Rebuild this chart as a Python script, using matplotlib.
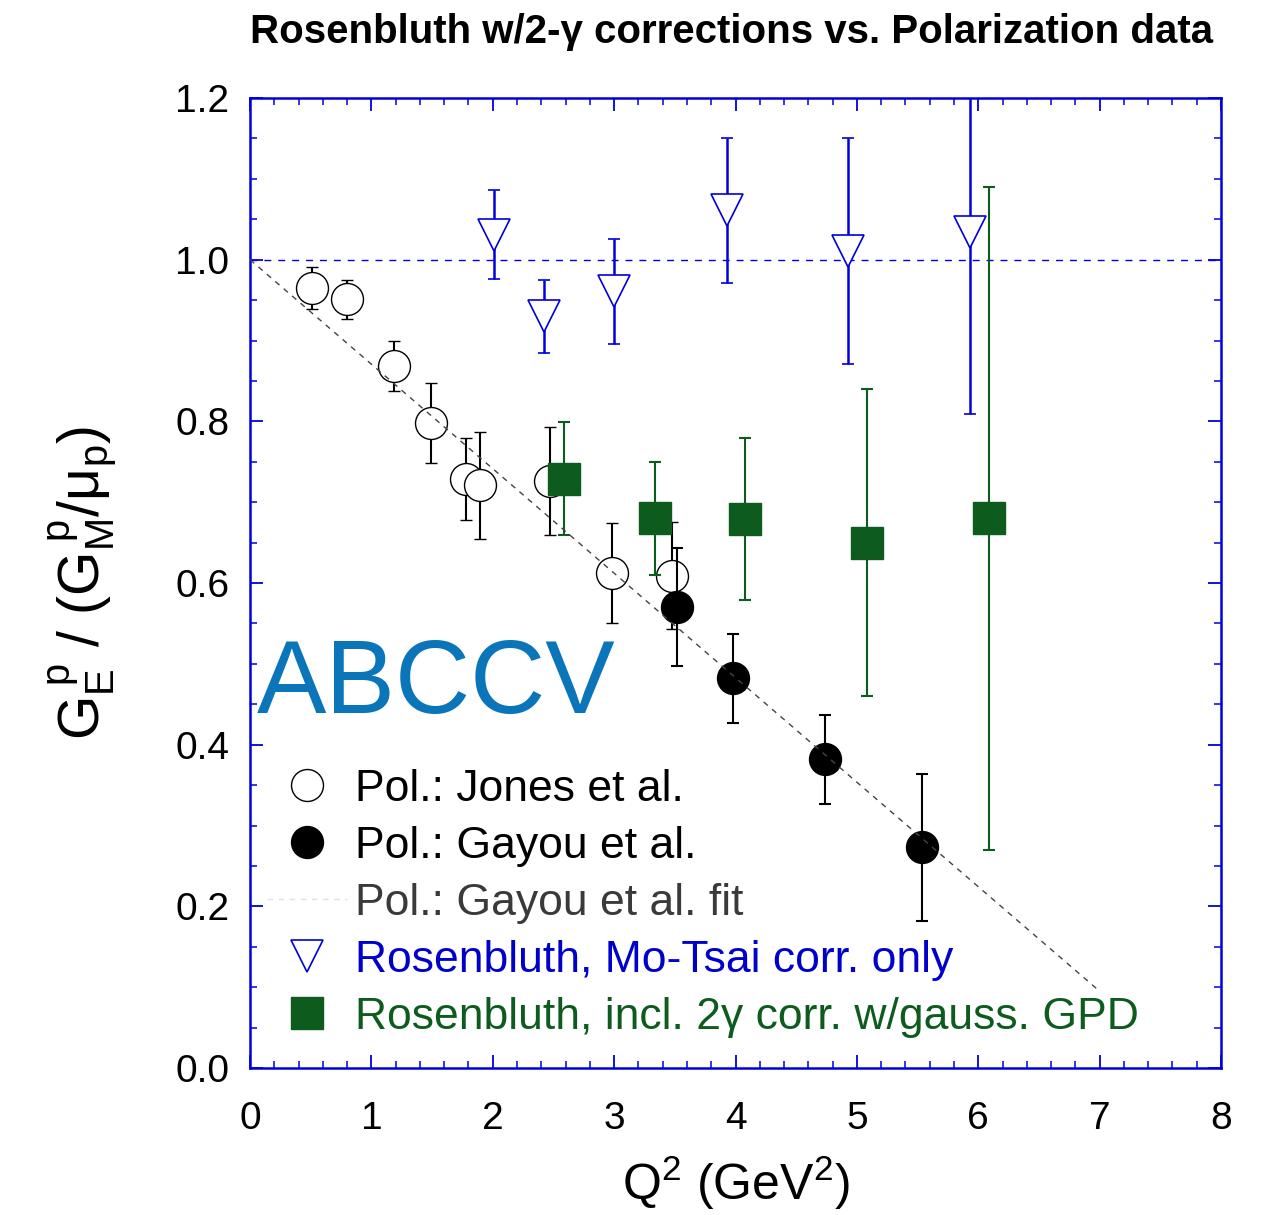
import matplotlib
matplotlib.use('Agg')
import matplotlib.pyplot as plt
from matplotlib.lines import Line2D
from matplotlib.ticker import MultipleLocator, FormatStrFormatter

plt.rcParams['font.family'] = ['Liberation Sans', 'DejaVu Sans']
plt.rcParams['mathtext.fontset'] = 'custom'
plt.rcParams['mathtext.rm'] = 'Liberation Sans'
plt.rcParams['mathtext.it'] = 'Liberation Sans'
plt.rcParams['mathtext.bf'] = 'Liberation Sans:bold'

# polarization transfer, Jones et al.
jones_q2 = [0.51, 0.80, 1.19, 1.49, 1.78, 1.895, 2.47, 2.98, 3.48]
jones_ratio = [0.965, 0.951, 0.869, 0.798, 0.729, 0.721, 0.726, 0.612, 0.609]
jones_err = [0.026, 0.024, 0.031, 0.050, 0.051, 0.066, 0.067, 0.062, 0.066]

# polarization transfer, Gayou et al.
gayou_q2 = [3.52, 3.98, 4.74, 5.54]
gayou_ratio = [0.570, 0.482, 0.382, 0.273]
gayou_err = [0.073, 0.055, 0.055, 0.091]

# linear fit to the Gayou data
fit_q2 = [0.0, 7.0]
fit_ratio = [1.0, 0.095]

# Rosenbluth separation, Mo-Tsai radiative corrections only
mt_q2 = [2.01, 2.42, 3.00, 3.93, 4.93, 5.93]
mt_ratio = [1.031, 0.930, 0.961, 1.061, 1.011, 1.034]
mt_err = [0.055, 0.045, 0.065, 0.090, 0.140, 0.225]

# Rosenbluth separation with two-photon exchange correction
tpe_q2 = [2.59, 3.34, 4.08, 5.08, 6.09]
tpe_ratio = [0.729, 0.680, 0.679, 0.650, 0.680]
tpe_err = [0.070, 0.070, 0.100, 0.190, 0.410]

blue = '#0000dd'
green = '#0d5c1e'

fig = plt.figure(figsize=(12.85, 12.15), dpi=100)
ax = fig.add_axes([250 / 1285, 1 - 1068 / 1215, 971 / 1285, 970 / 1215])

ax.axhline(1.0, color=blue, lw=1.0, ls=(0, (5, 5)), zorder=1)

ms = 23
ax.errorbar(jones_q2, jones_ratio, yerr=jones_err, fmt='o', ms=ms, mfc='white',
            mec='black', mew=1.0, ecolor='black', elinewidth=1.5, capsize=4,
            capthick=1.5, zorder=3)
ax.errorbar(gayou_q2, gayou_ratio, yerr=gayou_err, fmt='o', ms=ms, mfc='black',
            mec='black', ecolor='black', elinewidth=1.5, capsize=4,
            capthick=1.5, zorder=4)
ax.errorbar(mt_q2, mt_ratio, yerr=mt_err, fmt='v', ms=ms, mfc='white',
            mec=blue, mew=1.2, ecolor=blue, elinewidth=1.8, capsize=4,
            capthick=1.8, zorder=3)
ax.errorbar(tpe_q2, tpe_ratio, yerr=tpe_err, fmt='s', ms=ms, mfc=green,
            mec=green, ecolor=green, elinewidth=1.5, capsize=4,
            capthick=1.5, zorder=5)
ax.plot(fit_q2, fit_ratio, color='#444444', lw=1.0, ls=(0, (4, 4)), zorder=6)

ax.set_xlim(0, 8)
ax.set_ylim(0, 1.2)
ax.xaxis.set_major_locator(MultipleLocator(1))
ax.xaxis.set_minor_locator(MultipleLocator(0.2))
ax.yaxis.set_major_locator(MultipleLocator(0.2))
ax.yaxis.set_minor_locator(MultipleLocator(0.05))
ax.yaxis.set_major_formatter(FormatStrFormatter('%.1f'))

for s in ax.spines.values():
    s.set_color(blue)
    s.set_linewidth(1.8)
ax.tick_params(which='both', direction='in', top=True, right=True,
               color=blue, labelcolor='black')
ax.tick_params(which='major', length=9.5, width=1.3, labelsize=28)
ax.tick_params(which='minor', length=5, width=1.1)
ax.tick_params(axis='x', which='major', pad=24)
ax.tick_params(axis='y', which='major', pad=15)

ax.set_xlabel(r'Q$^2$ (GeV$^2$)', fontsize=36, labelpad=12)
ax.set_ylabel(r'$\mathregular{G_E^{\;p}\ /\ (G_M^{\;p}/\mu_p)}$', fontsize=41,
              labelpad=40)

fig.text(732 / 1285, 1 - 32 / 1215,
         'Rosenbluth w/2-\u03b3 corrections vs. Polarization data',
         ha='center', va='center', fontsize=29, fontweight='bold')

ax.text(0.007, 0.366, 'ABCCV', transform=ax.transAxes, fontsize=75,
        color='#0a75b8', ha='left', va='baseline', zorder=7)

handles = [
    Line2D([], [], ls='none', marker='o', ms=ms, mfc='white', mec='black', mew=1.0),
    Line2D([], [], ls='none', marker='o', ms=ms, mfc='black', mec='black'),
    Line2D([], [], color='#e0e0e0', lw=1.0, ls=(0, (4, 4))),
    Line2D([], [], ls='none', marker='v', ms=ms, mfc='white', mec=blue, mew=1.2),
    Line2D([], [], ls='none', marker='s', ms=ms, mfc=green, mec=green),
]
labels = ['Pol.: Jones et al.', 'Pol.: Gayou et al.', 'Pol.: Gayou et al. fit',
          'Rosenbluth, Mo-Tsai corr. only',
          'Rosenbluth, incl. 2\u03b3 corr. w/gauss. GPD']
ax.legend(handles, labels, loc='lower left', bbox_to_anchor=(0.0175, 0.031),
          frameon=False, fontsize=32, borderpad=0, borderaxespad=0,
          handlelength=1.8, handletextpad=0.18, labelspacing=0.36,
          labelcolor=['black', 'black', '#3a3a3a', '#0000cc', green])

fig.savefig('out.png', dpi=100)
